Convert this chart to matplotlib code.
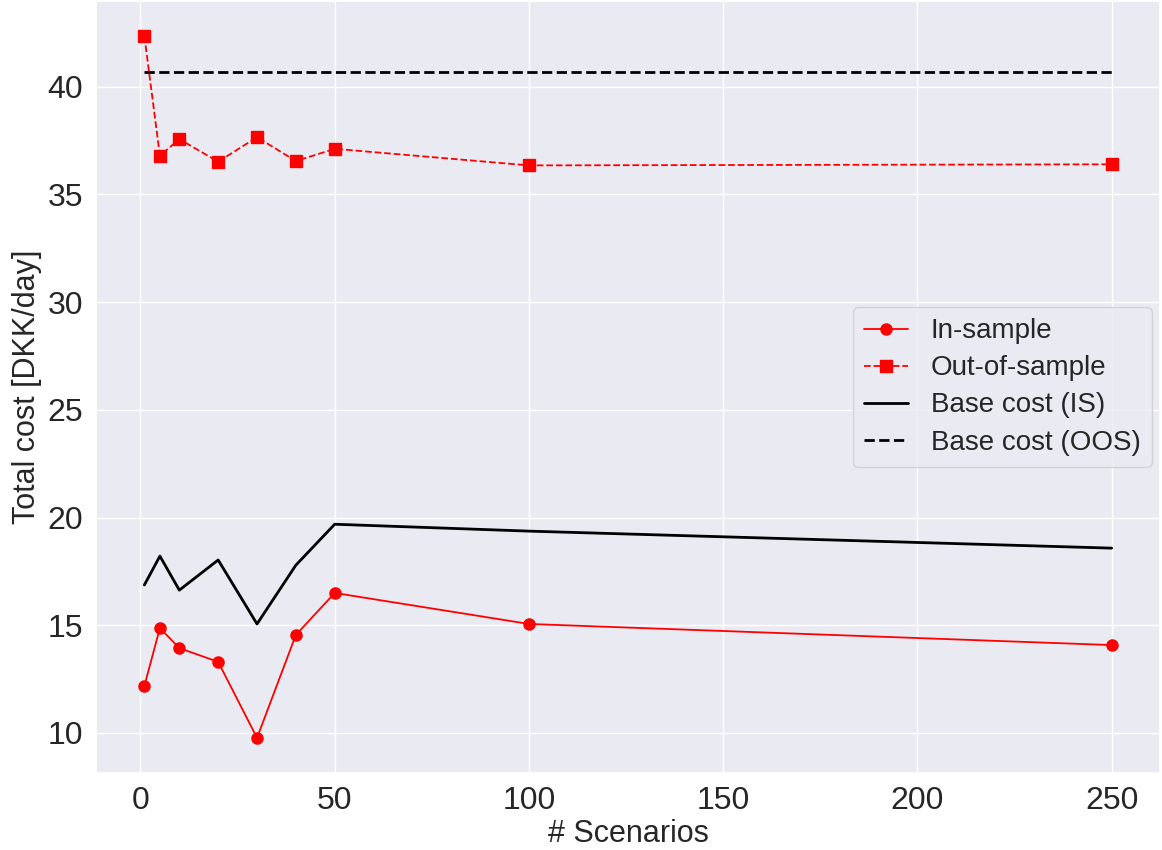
import numpy as np
import matplotlib.pyplot as plt
import seaborn as sns

sns.set_theme(style='darkgrid')
plt.rcParams['font.family'] = ['Arial', 'Liberation Sans', 'DejaVu Sans']

# data
scenarios = [1, 5, 10, 20, 30, 40, 50, 100, 250]
in_sample = [12.18, 14.87, 13.94, 13.30, 9.77, 14.55, 16.50, 15.06, 14.08]
out_sample = [42.36, 36.80, 37.57, 36.52, 37.66, 36.55, 37.12, 36.35, 36.40]
base_is = [16.87, 18.21, 16.63, 18.03, 15.06, 17.79, 19.69, 19.37, 18.58]
base_oos = [40.68] * len(scenarios)

fig, ax = plt.subplots(figsize=(11.62, 8.5), dpi=100)
ax.plot(scenarios, in_sample, 'o-', color='red', linewidth=1.3, markersize=8, label='In-sample')
ax.plot(scenarios, out_sample, 's--', color='red', linewidth=1.3, markersize=8, label='Out-of-sample')
ax.plot(scenarios, base_is, '-', color='black', linewidth=2, label='Base cost (IS)')
ax.plot(scenarios, base_oos, '--', color='black', linewidth=2, label='Base cost (OOS)')

ax.set_xlabel('# Scenarios', fontsize=22, labelpad=2)
ax.set_ylabel('Total cost [DKK/day]', fontsize=22, labelpad=4)
ax.tick_params(labelsize=23)
ax.legend(loc='center right', fontsize=20, handlelength=1.6, labelspacing=0.4,
          borderaxespad=0.3)

fig.subplots_adjust(left=96/1162, right=1160/1162, top=0.999, bottom=1-773/850)
fig.savefig('out.png')
